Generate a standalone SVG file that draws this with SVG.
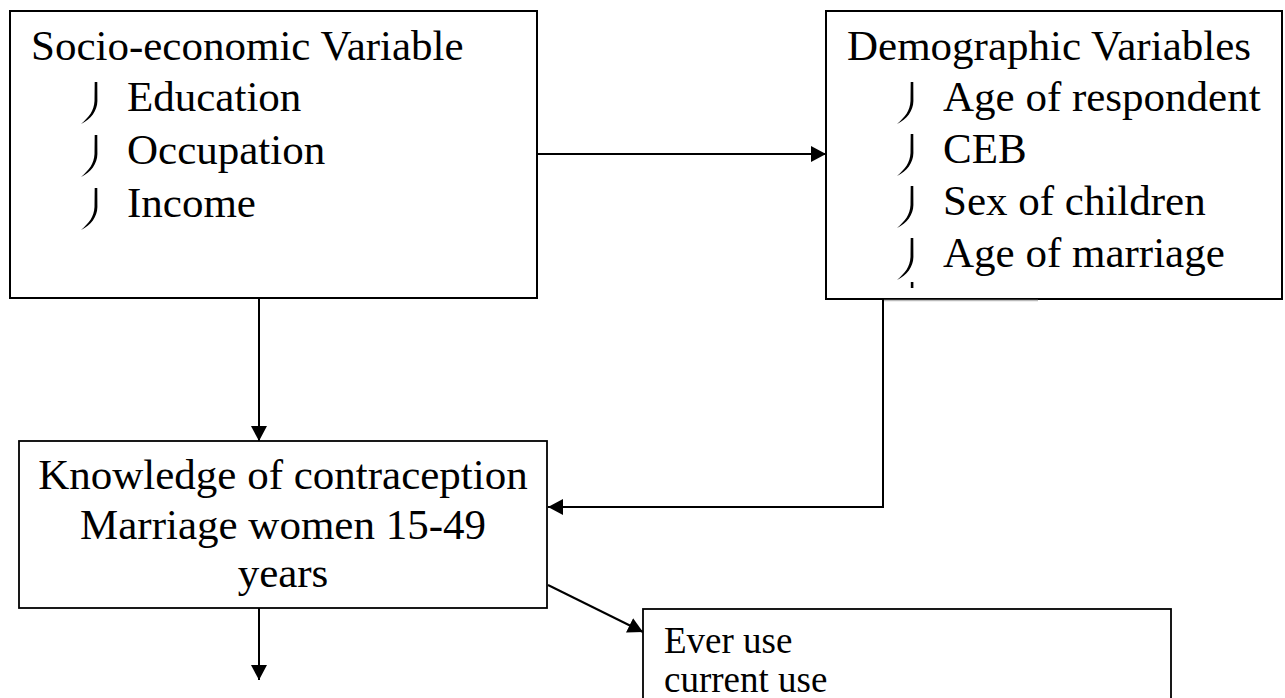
<svg xmlns="http://www.w3.org/2000/svg" xmlns:xlink="http://www.w3.org/1999/xlink" width="1285" height="698" viewBox="0 0 1285 698">
<style>
  .box { fill: #fff; stroke: #000; stroke-width: 2; }
  .t { font-family: "Liberation Serif", "Times New Roman", serif; font-size: 43px; fill: #000; }
  .s { font-family: "Liberation Serif", "Times New Roman", serif; font-size: 37px; fill: #000; }
  .c { fill: none; stroke: #000; stroke-width: 2; }
  .bul { fill: #000; stroke: none; }
</style>
<defs>
  <marker id="ah" markerUnits="userSpaceOnUse" markerWidth="16" markerHeight="16" refX="15" refY="8" orient="auto">
    <path d="M0,0 L15,8 L0,16 z" fill="#000"/>
  </marker>
  <path id="b" class="bul" d="M-1.3,-29 L1.3,-29 L1.4,-10 C1.2,0 -5,8 -15,13 C-7,6 -2,0 -1.5,-10 Z"/>
</defs>

<rect width="1285" height="698" fill="#fff"/>

<g id="socio">
  <rect class="box" x="10" y="11" width="527" height="287"/>
  <text class="t" x="31" y="60">Socio-economic Variable</text>
  <use xlink:href="#b" x="96" y="111"/>
  <text class="t" x="127" y="111">Education</text>
  <use xlink:href="#b" x="96" y="164"/>
  <text class="t" x="127" y="164">Occupation</text>
  <use xlink:href="#b" x="96" y="217"/>
  <text class="t" x="127" y="217">Income</text>
</g>

<g id="demographic">
  <rect class="box" x="826" y="11" width="456" height="288"/>
  <text class="t" x="847" y="60">Demographic Variables</text>
  <use xlink:href="#b" x="912" y="111"/>
  <text class="t" x="943" y="111">Age of respondent</text>
  <use xlink:href="#b" x="912" y="163"/>
  <text class="t" x="943" y="163">CEB</text>
  <use xlink:href="#b" x="912" y="215"/>
  <text class="t" x="943" y="215">Sex of children</text>
  <use xlink:href="#b" x="912" y="267"/>
  <text class="t" x="943" y="267">Age of marriage</text>
  <rect x="910.8" y="282" width="2.6" height="6" fill="#000"/>
  <line x1="884" y1="300.5" x2="1038" y2="300.5" stroke="#bbb" stroke-width="1.5"/>
</g>

<g id="knowledge">
  <rect class="box" x="19" y="441" width="528" height="167" style="stroke-width:1.8"/>
  <text class="t" x="283" y="489" text-anchor="middle">Knowledge of contraception</text>
  <text class="t" x="283" y="539" text-anchor="middle">Marriage women 15-49</text>
  <text class="t" x="283" y="587" text-anchor="middle">years</text>
</g>

<g id="use">
  <rect class="box" x="643" y="609" width="528" height="140" style="stroke-width:1.8"/>
  <text class="s" x="664" y="653">Ever use</text>
  <text class="s" x="664" y="692">current use</text>
</g>

<g id="connectors">
  <path class="c" d="M537,154 L826,154" marker-end="url(#ah)"/>
  <path class="c" d="M259,298 L259,441" marker-end="url(#ah)"/>
  <path class="c" d="M883,299 L883,507 L548,507" marker-end="url(#ah)"/>
  <path class="c" d="M548,585 L643,632" marker-end="url(#ah)"/>
  <path class="c" d="M259,608 L259,680" marker-end="url(#ah)"/>
</g>
</svg>
